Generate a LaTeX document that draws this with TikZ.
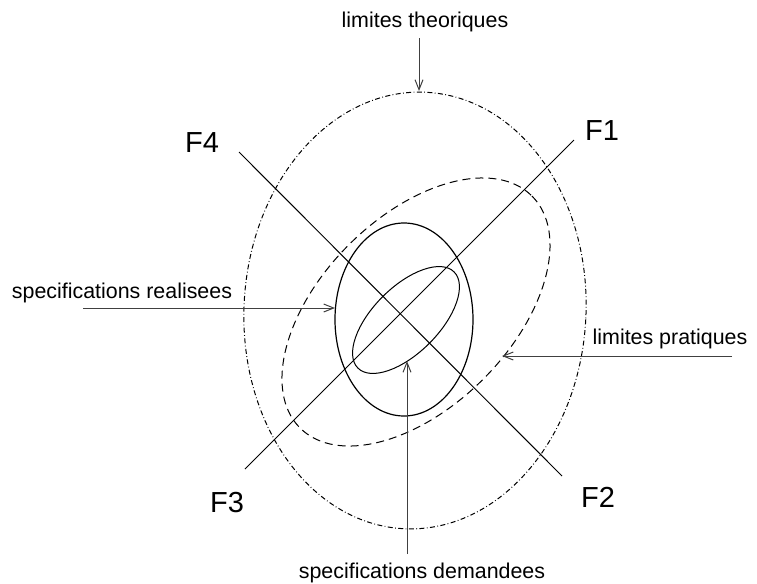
\documentclass[tikz,border=0pt]{standalone}
\usepackage{fontspec}
\setmainfont{Liberation Sans}
\usetikzlibrary{arrows.meta}

\begin{document}
\begin{tikzpicture}[x=0.5pt, y=-0.5pt, line width=0.5pt,
    etiq/.style={font=\fontsize{10.7}{13}\selectfont, anchor=base, inner sep=0pt},
    axe/.style={font=\fontsize{14.5}{17}\selectfont, anchor=base, inner sep=0pt},
    fleche/.style={-{Straight Barb[length=5pt,width=4pt]}, black!75}]
    \useasboundingbox (0,0) rectangle (757,584);

    % Axes
    \coordinate (a1) at (574,140);
    \coordinate (a2) at (562,476);
    \coordinate (a3) at (245,469);
    \coordinate (a4) at (239,152);
    \draw (a3) -- (a1);
    \draw (a4) -- (a2);
    \node[axe] (F1) at (602,140) {F1};
    \node[axe] (F2) at (598,507) {F2};
    \node[axe] (F3) at (227,512) {F3};
    \node[axe] (F4) at (202,152) {F4};

    % Limites theoriques
    \draw[dash pattern=on 2.5pt off 1.2pt on 0.4pt off 1.2pt, rotate around={-3:(415,310.5)}]
        (415,310.5) ellipse [x radius=171, y radius=218.5];

    % Limites pratiques
    \draw[dash pattern=on 4pt off 2.5pt, rotate around={45:(416,312)}]
        (416,312) ellipse [x radius=164, y radius=95];

    % Specifications realisees
    \draw[line width=0.6pt] (404,319.5) ellipse [x radius=69, y radius=96.5];

    % Specifications demandees
    \draw[rotate around={45:(406,320)}] (406,320) ellipse [x radius=68, y radius=33];

    % Etiquettes et fleches
    \node[etiq] (lth) at (425,27) {limites theoriques};
    \node[etiq] (lpr) at (670,344) {limites pratiques};
    \node[etiq] (sre) at (122,298) {specifications realisees};
    \node[etiq] (sde) at (422,578) {specifications demandees};

    \coordinate (th0) at (419,38);  \coordinate (th1) at (419,91);
    \coordinate (pr0) at (732,356); \coordinate (pr1) at (502,356);
    \coordinate (re0) at (83,308);  \coordinate (re1) at (335,308);
    \coordinate (de0) at (407,554); \coordinate (de1) at (407,361);
    \draw[fleche] (th0) -- (th1);
    \draw[fleche] (pr0) -- (pr1);
    \draw[fleche] (re0) -- (re1);
    \draw[fleche] (de0) -- (de1);
\end{tikzpicture}
\end{document}
